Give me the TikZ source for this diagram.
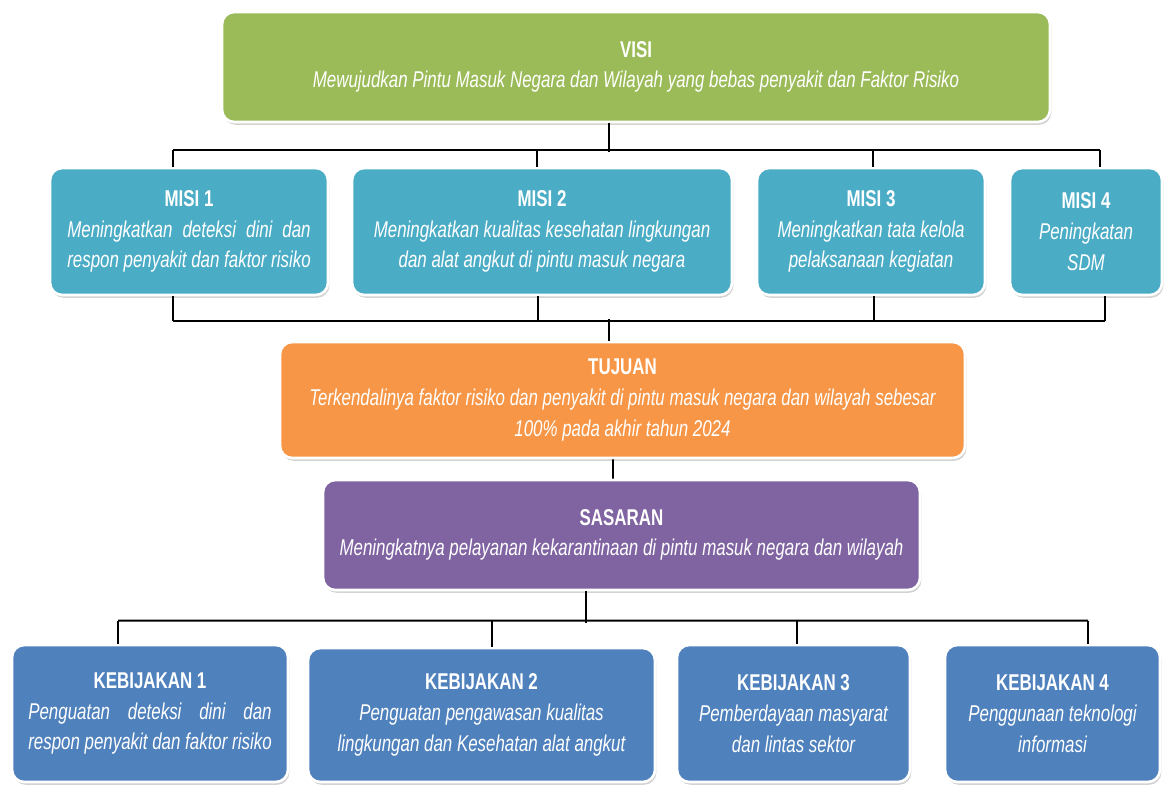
\documentclass[tikz,border=0pt]{standalone}
\usepackage{fontspec}
\setmainfont{Liberation Sans}[FakeStretch=0.74]
\usetikzlibrary{shadows}
\definecolor{visigreen}{RGB}{155,187,89}
\definecolor{misiteal}{RGB}{75,172,198}
\definecolor{tujuanorange}{RGB}{247,150,70}
\definecolor{sasaranpurple}{RGB}{128,100,162}
\definecolor{kebblue}{RGB}{79,129,189}
\tikzset{
  blok/.style={draw=white,line width=1.5pt,rounded corners=7pt,inner sep=0pt,
    text=white,align=center,font=\fontsize{13}{17.5}\selectfont\itshape,
    drop shadow={shadow xshift=0.8pt,shadow yshift=-1.6pt,opacity=0.35}},
  link/.style={draw=black,line width=1.1pt},
}
\newcommand{\judul}[1]{{\upshape\bfseries #1}}
\newlength\lebar
\newcommand{\rata}[2]{\settowidth{\lebar}{#2}\makebox[\lebar][s]{#1}\\#2}

\begin{document}
\begin{tikzpicture}[x=0.2mm,y=-0.2mm]
  \useasboundingbox (0,0) rectangle (1169,793);

  % visi
  \node[blok,fill=visigreen,minimum width=165.6mm,minimum height=22mm] (visi) at (636,67)
    {\judul{VISI}\\Mewujudkan Pintu Masuk Negara dan Wilayah yang bebas penyakit dan Faktor Risiko};

  % misi
  \node[blok,fill=misiteal,minimum width=55.6mm,minimum height=25.4mm] (misi1) at (189,231.5)
    {\judul{MISI 1}\\\rata{Meningkatkan deteksi dini dan}{respon penyakit dan faktor risiko}};
  \node[blok,fill=misiteal,minimum width=76mm,minimum height=25.4mm] (misi2) at (542,231.5)
    {\judul{MISI 2}\\Meningkatkan kualitas kesehatan lingkungan\\dan alat angkut di pintu masuk negara};
  \node[blok,fill=misiteal,minimum width=45.6mm,minimum height=25.4mm] (misi3) at (871,231.5)
    {\judul{MISI 3}\\Meningkatkan tata kelola\\pelaksanaan kegiatan};
  \node[blok,fill=misiteal,minimum width=30.4mm,minimum height=25.4mm] (misi4) at (1086,231.5)
    {\judul{MISI 4}\\Peningkatan\\SDM};

  % tujuan dan sasaran
  \node[blok,fill=tujuanorange,minimum width=137mm,minimum height=23.2mm] (tujuan) at (622.5,400)
    {\judul{TUJUAN}\\Terkendalinya faktor risiko dan penyakit di pintu masuk negara dan wilayah sebesar\\100\% pada akhir tahun 2024};
  \node[blok,fill=sasaranpurple,minimum width=119.4mm,minimum height=22mm] (sasaran) at (621.5,535)
    {\judul{SASARAN}\\Meningkatnya pelayanan kekarantinaan di pintu masuk negara dan wilayah};

  % kebijakan
  \node[blok,fill=kebblue,minimum width=55.2mm,minimum height=27.4mm] (keb1) at (150,713.5)
    {\judul{KEBIJAKAN 1}\\\rata{Penguatan deteksi dini dan}{respon penyakit dan faktor risiko}};
  \node[blok,fill=kebblue,minimum width=69.4mm,minimum height=26.8mm] (keb2) at (481.5,715)
    {\judul{KEBIJAKAN 2}\\Penguatan pengawasan kualitas\\lingkungan dan Kesehatan alat angkut};
  \node[blok,fill=kebblue,minimum width=46.6mm,minimum height=27.4mm] (keb3) at (793.5,713.5)
    {\judul{KEBIJAKAN 3}\\Pemberdayaan masyarat\\dan lintas sektor};
  \node[blok,fill=kebblue,minimum width=43mm,minimum height=27.4mm] (keb4) at (1052.5,713.5)
    {\judul{KEBIJAKAN 4}\\Penggunaan teknologi\\informasi};

  % visi ke misi
  \draw[link] ([xshift=-5.4mm]visi.south) -- ++(0,29);
  \draw[link] ([xshift=-3.2mm,yshift=3.4mm]misi1.north) -- ([xshift=2.8mm,yshift=3.4mm]misi4.north);
  \foreach \n/\dx in {misi1/-3.2mm,misi2/-1mm,misi3/0.4mm,misi4/2.8mm}
    \draw[link] ([xshift=\dx]\n.north) -- ++(0,-17);

  % misi ke tujuan
  \draw[link] ([xshift=-3.2mm,yshift=-5mm]misi1.south) -- ([xshift=3.8mm,yshift=-5mm]misi4.south);
  \foreach \n/\dx in {misi1/-3.2mm,misi2/-0.8mm,misi3/0.6mm,misi4/3.8mm}
    \draw[link] ([xshift=\dx]\n.south) -- ++(0,25);
  \draw[link] ([xshift=-2.7mm]tujuan.north) -- ++(0,-22);

  % tujuan ke sasaran
  \draw[link] ([xshift=-1.9mm]tujuan.south) -- ([xshift=-1.7mm]sasaran.north);

  % sasaran ke kebijakan
  \draw[link] ([xshift=-7.1mm]sasaran.south) -- ++(0,32);
  \draw[link] ([xshift=-6.4mm]keb1.north) ++(0,-23) -- ([xshift=7.1mm,yshift=4.6mm]keb4.north);
  \foreach \n/\dx in {keb1/-6.4mm,keb3/0.7mm,keb4/7.1mm}
    \draw[link] ([xshift=\dx]\n.north) -- ++(0,-23);
  \draw[link] ([xshift=2.1mm]keb2.north) -- ++(0,-26);
\end{tikzpicture}
\end{document}
